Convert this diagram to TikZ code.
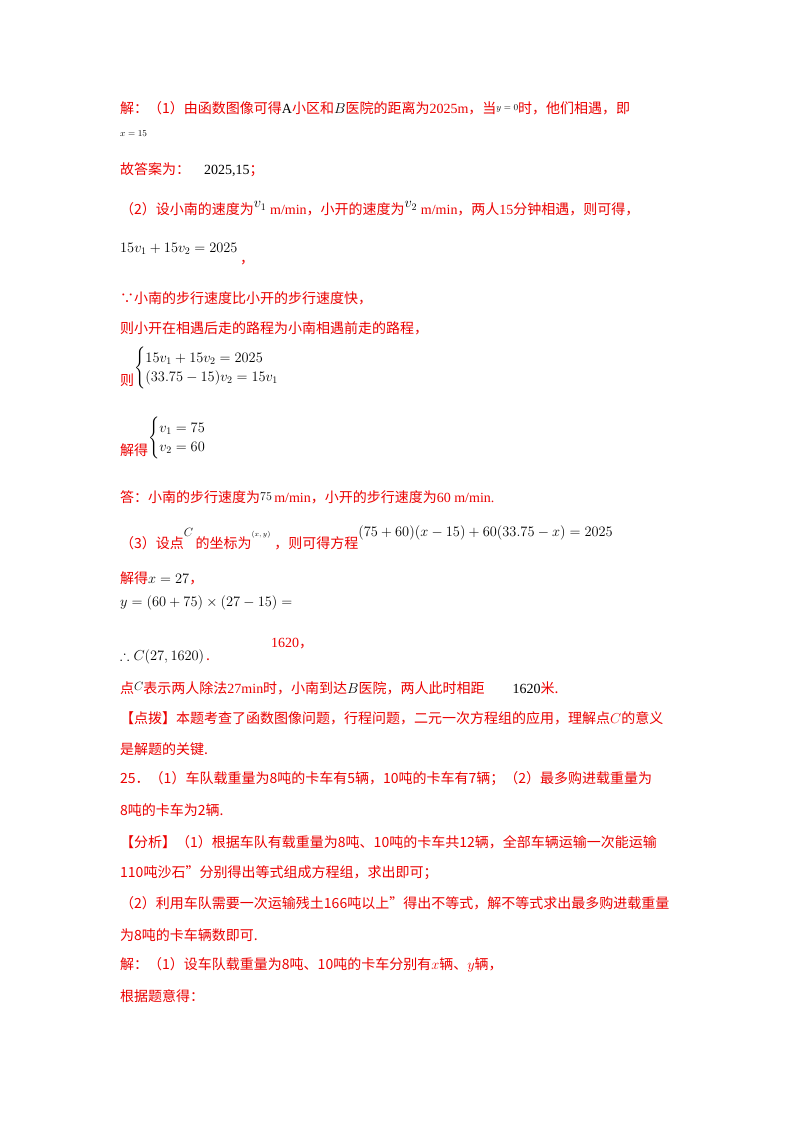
\documentclass[tikz,border=0pt]{standalone}
\usepackage{amsmath,amssymb}
\usepackage{fontspec}
\setmainfont{Noto Sans CJK SC}
\newfontfamily\tms{Liberation Serif}
\definecolor{rd}{RGB}{235,0,0}
\newcommand{\fs}{\fontsize{14}{16}\selectfont}
\newcommand{\bk}[1]{{\color{black}#1}}
\newcommand{\tn}[1]{{\tms #1}}
\begin{document}
\begin{tikzpicture}[x=1pt,y=1pt,
 t/.style={anchor=west,inner sep=0pt,text=rd,font=\fs},
 m/.style={anchor=west,inner sep=0pt,text=black,font=\fs}]
\useasboundingbox[fill=white] (0,0) rectangle (800,-1132);
\node[t] (l1) at (120,-108) {解：（1）由函数图像可得\bk{\tn{A}}小区和\bk{$B$}医院的距离为\tn{2025m}，当\raisebox{3pt}{\bk{\small$y=0$}}时，他们相遇，即};
\node[m] (l2) at (120,-134) {\small$x=15$};
\node[t] (l3) at (120,-170) {故答案为：\quad\bk{\tn{2025,15}}；};
\node[t] (l4) at (120,-209) {（2）设小南的速度为\raisebox{7pt}{\bk{$v_1$}}\;\tn{m/min}，小开的速度为\raisebox{7pt}{\bk{$v_2$}}\;\tn{m/min}，两人\tn{15}分钟相遇，则可得，};
\node[m] (l5) at (120,-249) {$15v_1+15v_2=2025$};
\node[t] (l5b) at (240,-263) {，};
\node[t] (l6) at (120,-298) {∵小南的步行速度比小开的步行速度快，};
\node[t] (l7) at (120,-328) {则小开在相遇后走的路程为小南相遇前走的路程，};
\node[t] (l8) at (120,-380) {则};
\node[m] (l8b) at (134,-368) {$\begin{cases}15v_1+15v_2=2025\\(33.75-15)v_2=15v_1\end{cases}$};
\node[t] (l9) at (120,-450) {解得};
\node[m] (l9b) at (148,-438) {$\begin{cases}v_1=75\\v_2=60\end{cases}$};
\node[t] (l10) at (120,-497) {答：小南的步行速度为\raisebox{2pt}{\bk{\large$75$}}\,\tn{m/min}，小开的步行速度为\tn{60 m/min.}};
\node[t] (l11) at (120,-538) {（3）设点\raisebox{12pt}{\bk{\large$C$}}\,的坐标为\raisebox{12pt}{\bk{\scriptsize$(x,y)$}}\;，则可得方程\raisebox{12pt}{\bk{$(75+60)(x-15)+60(33.75-x)=2025$}}};
\node[t] (l12) at (120,-578) {解得\bk{$x=27$}，};
\node[m] (l13) at (120,-603) {$y=(60+75)\times(27-15)=$};
\node[t] (l13b) at (271,-644) {\tn{1620}，};
\node[m] (l14) at (120,-657) {$\therefore C(27,1620)$};
\node[t] (l14b) at (206,-660) {.};
\node[t] (l15) at (120,-688) {点\raisebox{3pt}{\bk{\large$C$}}表示两人除法\tn{27min}时，小南到达\bk{$B$}医院，两人此时相距\quad\quad\bk{\tn{1620}}米.};
\node[t] (l16) at (120,-718) {【点拨】本题考查了函数图像问题，行程问题，二元一次方程组的应用，理解点$C$的意义};
\node[t] (l17) at (120,-749) {是解题的关键.};
\node[t] (l18) at (120,-779) {25．（1）车队载重量为8吨的卡车有5辆，10吨的卡车有7辆；（2）最多购进载重量为};
\node[t] (l19) at (120,-810) {8吨的卡车为2辆.};
\node[t] (l20) at (120,-842) {【分析】（1）根据车队有载重量为8吨、10吨的卡车共12辆，全部车辆运输一次能运输};
\node[t] (l21) at (120,-873) {110吨沙石”分别得出等式组成方程组，求出即可；};
\node[t] (l22) at (120,-903) {（2）利用车队需要一次运输残土166吨以上”得出不等式，解不等式求出最多购进载重量};
\node[t] (l23) at (120,-935) {为8吨的卡车辆数即可.};
\node[t] (l24) at (120,-965) {解：（1）设车队载重量为8吨、10吨的卡车分别有$x$辆、$y$辆，};
\node[t] (l25) at (120,-996) {根据题意得：};
\end{tikzpicture}
\end{document}
